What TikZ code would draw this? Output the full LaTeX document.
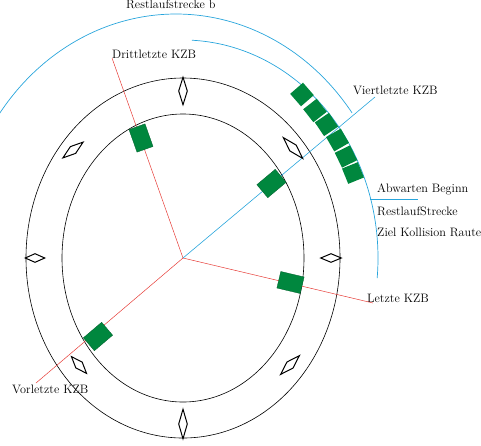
\documentclass[tikz,border=0pt]{standalone}
\usetikzlibrary{shapes.geometric}
\definecolor{kgreen}{RGB}{0,135,62}
\definecolor{kblue}{RGB}{40,165,220}
\definecolor{kred}{RGB}{230,60,55}
\begin{document}
\begin{tikzpicture}[x=1pt,y=-1pt,
  ring/.style={draw=black, line width=0.6pt},
  redline/.style={draw=kred, line width=0.5pt},
  blueline/.style={draw=kblue, line width=0.7pt},
  kzb/.style={rectangle, fill=kgreen, draw=kgreen!70!black, line width=0.3pt, minimum width=24pt, minimum height=17pt, inner sep=0pt},
  blk/.style={rectangle, fill=kgreen, minimum width=16.5pt, minimum height=17pt, inner sep=0pt},
  raute/.style={diamond, draw=black, line width=1pt, inner sep=0pt, minimum height=9pt},
  lbl/.style={anchor=base west, inner sep=0pt, font=\fontsize{12.2}{14}\selectfont}
]
\useasboundingbox (0,0) rectangle (481,445);
\clip (0,0) rectangle (481,445);

\coordinate (C) at (183,258);

% rings
\draw[ring] (C) ellipse [x radius=157pt, y radius=180pt];
\draw[ring] (C) ellipse [x radius=121pt, y radius=144pt];

% blue arcs
\draw[blueline] plot[domain=36.5:165, samples=120] ({176+219*cos(\x)},{258-244*sin(\x)});
\draw[blueline] plot[domain=-5.3:87.4, samples=120] ({183+195*cos(\x)},{258-218*sin(\x)});
\coordinate (abw0) at (370,199);
\coordinate (abw1) at (418,199);
\draw[blueline] (abw0) -- (abw1);

% labels
\node[lbl] (rb) at (126,8.5) {Restlaufstrecke b};
\node[lbl] (dr) at (112,58) {Drittletzte KZB};
\node[lbl] (vi) at (353,94) {Viertletzte KZB};
\node[lbl] (le) at (367,302) {Letzte KZB};
\node[lbl] (vo) at (12,393) {Vorletzte KZB};
\node[lbl] (ab) at (377,192) {Abwarten Beginn};
\node[lbl] (rs) at (377,215) {RestlaufStrecke};
\node[lbl] (zk) at (377,236) {Ziel Kollision Raute};

% radial lines
\coordinate (drE) at (112,58);
\coordinate (viE) at (375,97);
\coordinate (leE) at (373,303);
\coordinate (voE) at (36,383);
\draw[redline] (C) -- (drE);
\draw[redline] (C) -- (leE);
\draw[redline] (C) -- (voE);
\draw[blueline, line width=0.6pt] (C) -- (viE);

% KZB blocks on inner ring
\node[kzb, rotate=109.5] (k3) at (141,138) {};
\node[kzb, rotate=40] (k4) at (271.5,183.5) {};
\node[kzb, rotate=-13.3] (k1) at (290.5,282.5) {};
\node[kzb, rotate=220.4] (k2) at (98,336.5) {};

% stacked blocks
\node[blk, rotate=-49] (s1) at (302,94.5) {};
\node[blk, rotate=-52] (s2) at (315,110.5) {};
\node[blk, rotate=-56] (s3) at (326.5,124.5) {};
\node[blk, rotate=-60] (s4) at (337.5,140) {};
\node[blk, rotate=-64] (s5) at (346,156.5) {};
\node[blk, rotate=-68] (s6) at (353,173) {};

% diamonds
\node[raute, minimum width=28pt, rotate=90] (d1) at (183,91) {};
\node[raute, minimum width=30pt, rotate=90] (d2) at (183,424) {};
\node[raute, minimum width=20pt] (d3) at (35,258) {};
\node[raute, minimum width=21pt] (d4) at (331,258) {};
\node[raute, minimum width=26pt, rotate=38] (d5) at (73,150) {};
\node[raute, minimum width=29pt, rotate=-47] (d6) at (293,148) {};
\node[raute, minimum width=23pt, rotate=-48] (d7) at (79,365) {};
\node[raute, minimum width=27pt, rotate=45] (d8) at (290,365) {};
\end{tikzpicture}
\end{document}
